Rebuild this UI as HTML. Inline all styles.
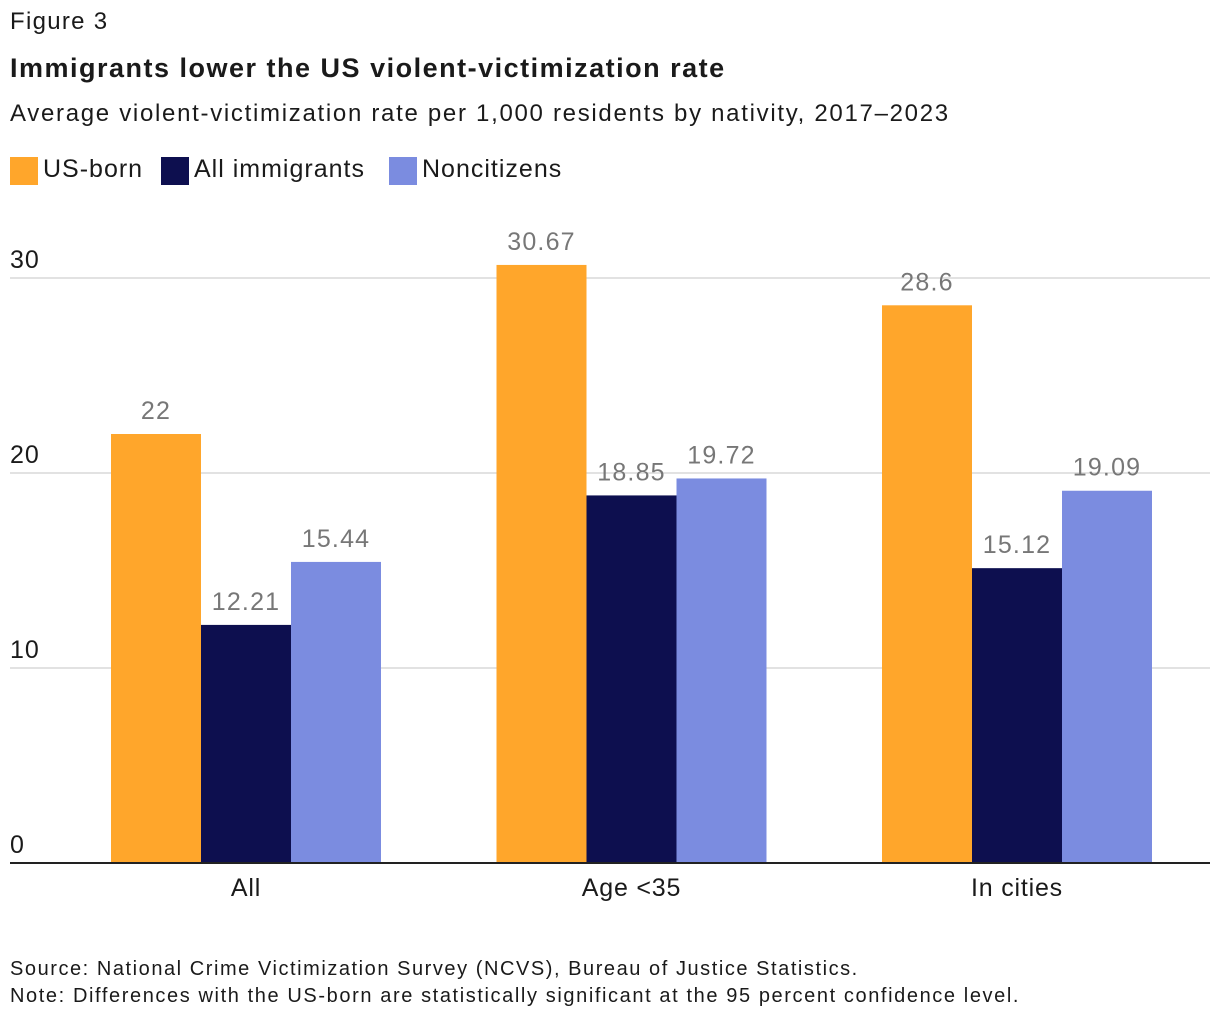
<!DOCTYPE html>
<html><head><meta charset="utf-8"><style>
body{margin:0;background:#fff;width:1220px;height:1026px;overflow:hidden;font-family:"Liberation Sans",sans-serif;color:#1a1a1a}
.t{position:absolute;white-space:nowrap}
.sw{position:absolute;width:28px;height:28px;top:157px}
</style></head><body>
<div class="t" style="left:10px;top:8px;font-size:24px;letter-spacing:1.3px">Figure 3</div>
<div class="t" style="left:10px;top:53px;font-size:27px;font-weight:bold;letter-spacing:1.5px">Immigrants lower the US violent-victimization rate</div>
<div class="t" style="left:10px;top:100px;font-size:24px;letter-spacing:1.7px">Average violent-victimization rate per 1,000 residents by nativity, 2017–2023</div>
<div>
<div class="sw" style="left:10px;background:#FFA62B"></div>
<div class="t" style="left:43px;top:155px;font-size:25px;letter-spacing:1px">US-born</div>
<div class="sw" style="left:161px;background:#0D0F4F"></div>
<div class="t" style="left:194px;top:155px;font-size:25px;letter-spacing:1px">All immigrants</div>
<div class="sw" style="left:389px;background:#7B8CE0"></div>
<div class="t" style="left:422px;top:155px;font-size:25px;letter-spacing:1px">Noncitizens</div>
</div>
<svg id="chart" width="1220" height="1026" style="position:absolute;left:0;top:0" font-family="Liberation Sans, sans-serif"></svg>
<div class="t" style="left:10px;top:958px;font-size:20px;letter-spacing:1.55px">Source: National Crime Victimization Survey (NCVS), Bureau of Justice Statistics.</div>
<div class="t" style="left:10px;top:985px;font-size:20px;letter-spacing:1.6px">Note: Differences with the US-born are statistically significant at the 95 percent confidence level.</div>
<script>
const categories=["All","Age <35","In cities"];
const usBorn=[22,30.67,28.6];
const allImmigrants=[12.21,18.85,15.12];
const noncitizens=[15.44,19.72,19.09];
const yTicks=[0,10,20,30];
const seriesNames=["us-born","all-immigrants","noncitizens"];
const colors=["#FFA62B","#0D0F4F","#7B8CE0"];
const svg=document.getElementById('chart');
const NS="http://www.w3.org/2000/svg";
const y=v=>863-v*19.5;
const gx=i=>246+i*385.5;
function mk(t,a){const e=document.createElementNS(NS,t);for(const k in a)e.setAttribute(k,a[k]);svg.appendChild(e);return e;}
yTicks.forEach(v=>{
 if(v>0){const l=mk('line',{x1:10,x2:1210,y1:y(v),y2:y(v),stroke:'#d9d9d9','stroke-width':1.5});
 
 }
 const t=mk('text',{x:10,y:y(v)-10,'font-size':25,fill:'#1a1a1a','letter-spacing':1});t.textContent=v;
 
 
});
const series=[usBorn,allImmigrants,noncitizens];
categories.forEach((c,i)=>{
 series.forEach((s,j)=>{
  const x=gx(i)-135+j*90;
  const r=mk('rect',{x:x,y:y(s[i]),width:90,height:863-y(s[i]),fill:colors[j]});
  
  
  const t=mk('text',{x:x+45,y:y(s[i])-15,'font-size':25,fill:'#777','text-anchor':'middle','letter-spacing':1.2});t.textContent=s[i];
  
  
 });
 const t=mk('text',{x:gx(i),y:896,'font-size':25,fill:'#1a1a1a','text-anchor':'middle','letter-spacing':0.8});t.textContent=c;
 
 
});
const b=mk('line',{x1:10,x2:1210,y1:863,y2:863,stroke:'#222','stroke-width':2});


</script>
</body></html>
